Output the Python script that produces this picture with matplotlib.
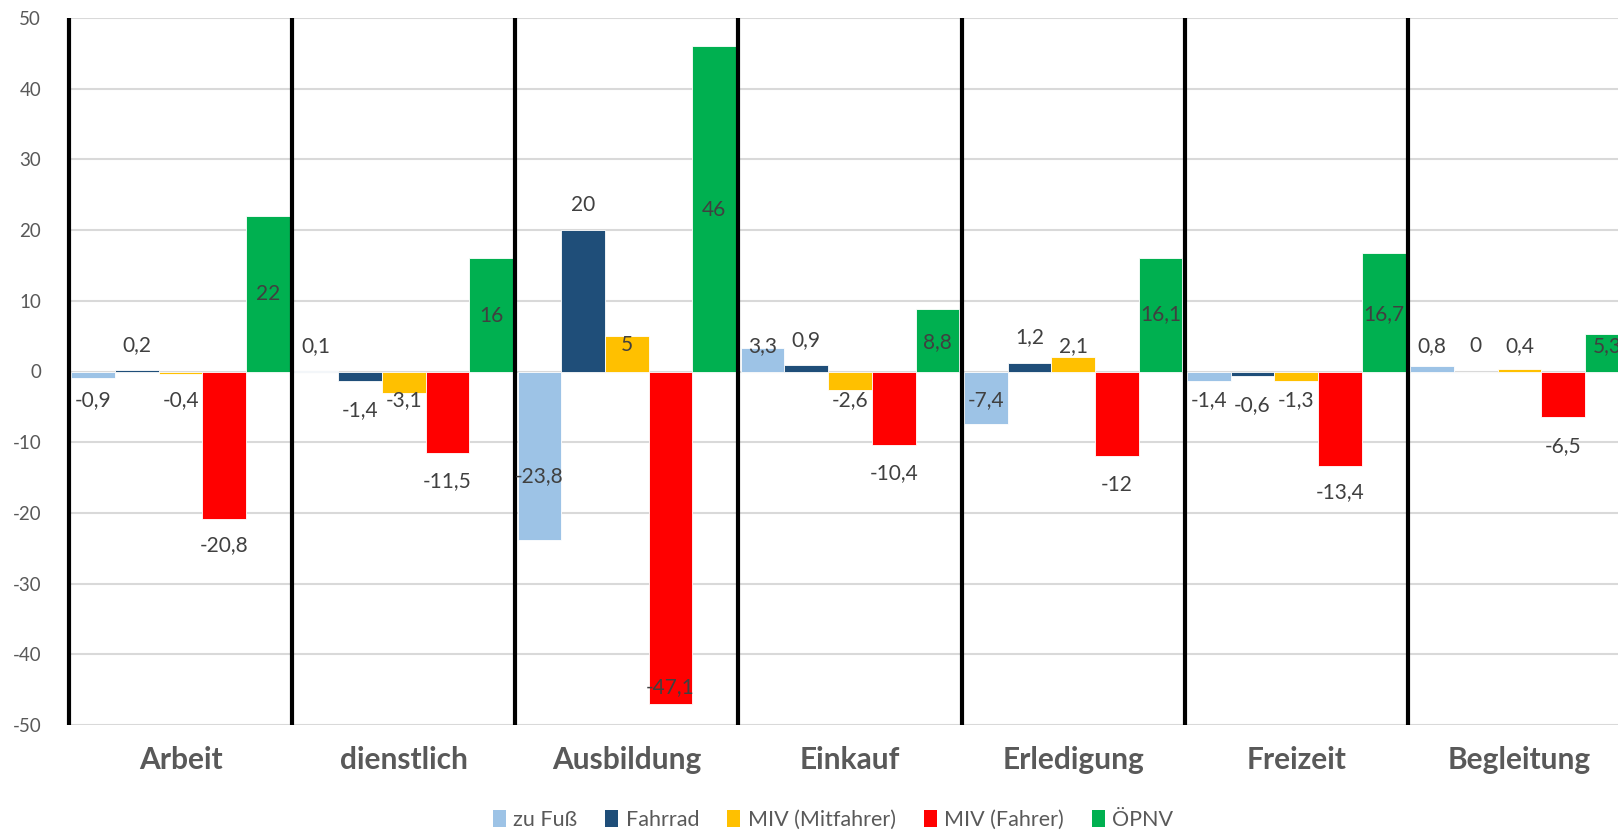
import matplotlib
matplotlib.use("Agg")
import matplotlib.pyplot as plt
from matplotlib.patches import Patch
import numpy as np

plt.rcParams['font.family'] = ['Lato', 'DejaVu Sans']

# Change per trip purpose (percentage points) by mode of transport
categories = ["Arbeit", "dienstlich", "Ausbildung", "Einkauf", "Erledigung", "Freizeit", "Begleitung"]
series_names = ["zu Fuß", "Fahrrad", "MIV (Mitfahrer)", "MIV (Fahrer)", "ÖPNV"]
zu_fuss = [-0.9, 0.1, -23.8, 3.3, -7.4, -1.4, 0.8]
fahrrad = [0.2, -1.4, 20, 0.9, 1.2, -0.6, 0]
miv_mitfahrer = [-0.4, -3.1, 5, -2.6, 2.1, -1.3, 0.4]
miv_fahrer = [-20.8, -11.5, -47.1, -10.4, -12, -13.4, -6.5]
oepnv = [22, 16, 46, 8.8, 16.1, 16.7, 5.3]
y_ticks = [-50, -40, -30, -20, -10, 0, 10, 20, 30, 40, 50]

series = [zu_fuss, fahrrad, miv_mitfahrer, miv_fahrer, oepnv]
colors = ["#9DC3E6", "#1F4E79", "#FFC000", "#FF0000", "#00B050"]

# vertical placement of each data label (in axis units)
label_pos = [
    [-4.0, 3.6, -14.8, 3.6, -4.0, -4.0, 3.6],
    [3.7, -5.4, 23.6, 4.5, 4.9, -4.7, 3.6],
    [-4.0, -4.0, 3.7, -4.1, 3.6, -4.0, 3.6],
    [-24.5, -15.5, -44.6, -14.3, -16.0, -17.1, -10.6],
    [10.9, 7.9, 22.9, 4.1, 8.05, 8.05, 3.6],
]

W, H = 1618, 833
fig = plt.figure(figsize=(W / 100, H / 100), dpi=100)
ax = fig.add_axes([69 / W, 1 - 725 / H, (1631 - 69) / W, (725 - 18) / H])

x = np.arange(len(categories))
bw = 0.196
for j, (vals, col) in enumerate(zip(series, colors)):
    xs = x + (j - 2) * bw
    ax.bar(xs, vals, width=bw, color=col, edgecolor="white", linewidth=0.6, zorder=3)
    for xi, v, ly in zip(xs, vals, label_pos[j]):
        ax.text(xi, ly, f"{v:g}".replace(".", ","), ha="center", va="center",
                fontsize=15, color="#404040", zorder=5)

# separators between trip purposes
for b in np.arange(len(categories) + 1) - 0.5:
    ax.plot([b, b], [-50, 50], color="black", linewidth=3, zorder=4,
            solid_capstyle="butt", clip_on=False)

ax.set_xlim(-0.5, len(categories) - 0.5)
ax.set_ylim(-50, 50)
ax.set_yticks(y_ticks)
ax.set_yticklabels([str(t) for t in y_ticks])
ax.set_xticks(x)
ax.set_xticklabels(categories, fontsize=21.5, fontweight="bold", color="#595959")
ax.tick_params(axis="y", length=0, pad=20, labelsize=13.5, labelcolor="#595959")
ax.tick_params(axis="x", length=0, pad=15)
ax.grid(axis="y", color="#D9D9D9", linewidth=1.5, zorder=0)
for s in ax.spines.values():
    s.set_visible(False)

handles = [Patch(facecolor=c, edgecolor="none") for c in colors]
fig.legend(handles, series_names, loc="center", bbox_to_anchor=(833 / W, 1 - 820 / H),
           ncol=5, frameon=False, fontsize=15.5, handlelength=0.6, handleheight=0.8,
           handletextpad=0.35, columnspacing=1.3, labelcolor="#595959")

fig.savefig("out.png", dpi=100)
